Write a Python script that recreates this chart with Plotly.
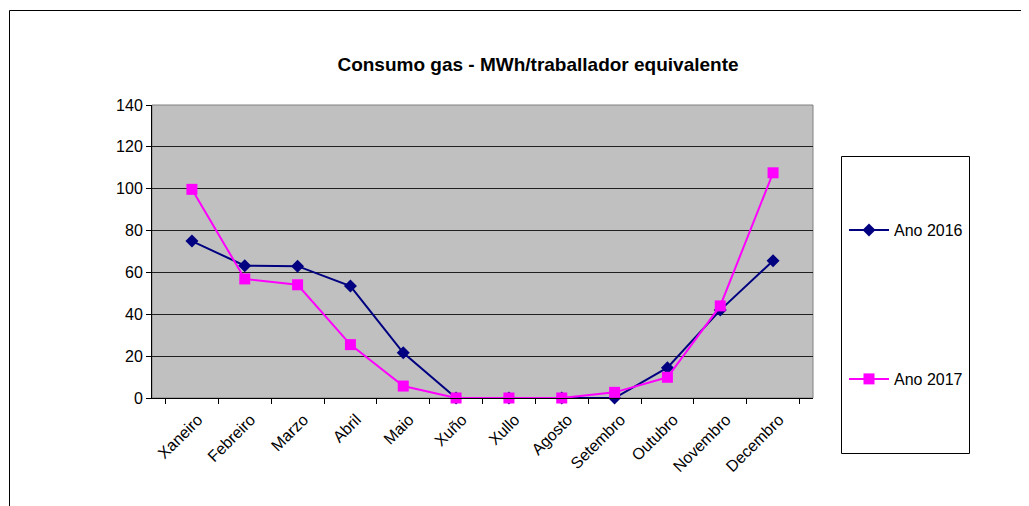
import plotly.graph_objects as go

months = ["Xaneiro", "Febreiro", "Marzo", "Abril", "Maio", "Xuño", "Xullo",
          "Agosto", "Setembro", "Outubro", "Novembro", "Decembro"]
ano_2016 = [75.0, 63.2, 63.0, 53.5, 21.6, 0.0, 0.0, 0.0, 0.0, 14.5, 42.0, 65.6]
ano_2017 = [99.7, 56.9, 54.1, 25.5, 5.7, 0.0, 0.0, 0.0, 2.7, 9.9, 44.0, 107.6]
y_ticks = [0, 20, 40, 60, 80, 100, 120, 140]

W, H = 1029, 506
OFF = 8  # page body margin
L, R, T, B = 152 - OFF, 813 - OFF, 105 - OFF, 398 - OFF
pw, ph = R - L, B - T

def px(x):
    return (x - OFF - L) / pw

def py(y):
    return (B - (y - OFF)) / ph

FONT = "Liberation Sans, Arial, sans-serif"

fig = go.Figure()
fig.add_trace(go.Scatter(
    x=months, y=ano_2016, name="Ano 2016", mode="lines+markers",
    line=dict(color="#000080", width=2),
    marker=dict(symbol="diamond", size=10, color="#000080"),
    cliponaxis=False, legend="legend"))
fig.add_trace(go.Scatter(
    x=months, y=ano_2017, name="Ano 2017", mode="lines+markers",
    line=dict(color="#FF00FF", width=2),
    marker=dict(symbol="square", size=11, color="#FF00FF"),
    cliponaxis=False, legend="legend2"))

shapes = [
    dict(type="rect", xref="paper", yref="paper",
         x0=px(9.5), x1=px(1100), y0=py(10.5), y1=py(600),
         line=dict(color="#000000", width=1), layer="below"),
    dict(type="rect", xref="paper", yref="paper",
         x0=0, x1=1, y0=0, y1=1,
         line=dict(color="#808080", width=1), layer="below"),
    dict(type="rect", xref="paper", yref="paper",
         x0=px(841.5), x1=px(969.5), y0=py(156.5), y1=py(453.5),
         line=dict(color="#000000", width=1), fillcolor="white"),
]

fig.update_layout(
    width=W, height=H,
    margin=dict(l=L, r=W - R, t=T, b=H - B),
    paper_bgcolor="white", plot_bgcolor="#C0C0C0",
    font=dict(family=FONT, size=16, color="#000000"),
    title=dict(text="<b>Consumo gas - MWh/traballador equivalente</b>",
               x=px(538), xref="paper", xanchor="center",
               y=1 - (64 - OFF) / H, yanchor="middle",
               font=dict(family=FONT, size=19, color="#000000")),
    xaxis=dict(categoryorder="array", categoryarray=months,
               tickangle=-45, ticks="outside", tickson="boundaries",
               ticklen=5, tickcolor="#000000", showline=True,
               linecolor="#000000", linewidth=1, showgrid=False,
               ticklabelstandoff=5, ticklabelshift=6,
               tickfont=dict(family=FONT, size=16)),
    yaxis=dict(range=[0, 140], tickvals=y_ticks, ticks="outside",
               ticklen=5, tickcolor="#000000", showline=True,
               linecolor="#000000", linewidth=1, showgrid=True,
               gridcolor="#202020", gridwidth=1, zeroline=False,
               tickfont=dict(family=FONT, size=16)),
    shapes=shapes,
    legend=dict(x=px(844), y=py(230), xanchor="left", yanchor="middle",
                bgcolor="rgba(0,0,0,0)", font=dict(family=FONT, size=16),
                itemwidth=40),
    legend2=dict(x=px(844), y=py(379), xanchor="left", yanchor="middle",
                 bgcolor="rgba(0,0,0,0)", font=dict(family=FONT, size=16),
                 itemwidth=40),
    showlegend=True,
)

fig.write_html("out.html")
